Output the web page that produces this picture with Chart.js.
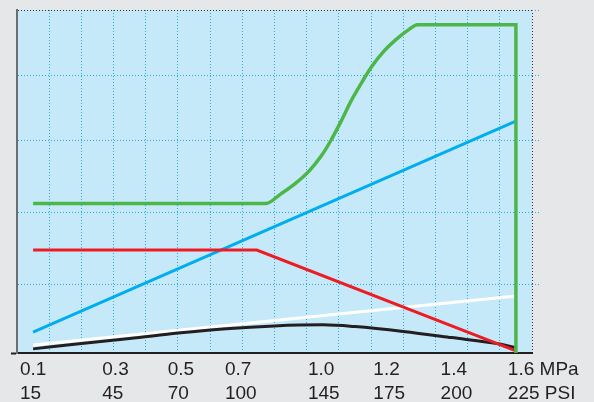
<!DOCTYPE html>
<html>
<head>
<meta charset="utf-8">
<script src="https://cdn.jsdelivr.net/npm/chart.js@4.4.1/dist/chart.umd.min.js"></script>
<style>
  html, body { margin: 0; padding: 0; background: #e6e7e8; }
  #wrap { width: 594px; height: 402px; position: relative; }
</style>
</head>
<body>
<div id="wrap"><canvas id="pressureChart"></canvas></div>
<script>
// axis labels (two rows: MPa over PSI)
var mpaLabels = ['0.1', '0.3', '0.5', '0.7', '1.0', '1.2', '1.4', '1.6 MPa'];
var psiLabels = ['15', '45', '70', '100', '145', '175', '200', '225 PSI'];
// where each label starts along the MPa axis
var labelAt = [0.059, 0.315, 0.518, 0.696, 0.954, 1.157, 1.366, 1.575];
// horizontal grid lines (relative units, no labels)
var yGrid = [0, 20, 41, 62, 81, 100];

// series: pressure (MPa) / value
var greenP = [0.1, 0.823, 0.87, 0.917, 0.958, 0.995, 1.026, 1.057, 1.088, 1.12, 1.151, 1.188, 1.229, 1.266, 1.294, 1.6, 1.6];
var greenV = [43.6, 43.6, 46.4, 49.6, 53.1, 57.4, 62.1, 67.6, 73.5, 78.7, 83.4, 87.8, 91.5, 94.2, 95.7, 95.7, 0];
var redP = [0.1, 0.795, 1.6];
var redV = [30.0, 30.0, 0.6];
var blackP = [0.1, 0.25, 0.4, 0.55, 0.7, 0.85, 1.0, 1.1, 1.25, 1.4, 1.55, 1.6];
var blackV = [1.2, 2.8, 4.2, 5.8, 7.1, 7.9, 8.2, 7.7, 6.3, 4.5, 2.6, 1.5];
var blueP = [0.1, 1.6];
var blueV = [6.1, 67.6];
var whiteP = [0.1, 1.6];
var whiteV = [2.3, 16.6];

var X_MIN = 0.05, X_MAX = 1.65;
var GRID_BLUE = '#29abe2';
var EDGE_DARK = '#2a3440';

function pts(xs, ys) {
  return xs.map(function(x, i) { return { x: x, y: ys[i] }; });
}

function line(data, color, width, smooth) {
  return {
    data: data,
    borderColor: color,
    borderWidth: width,
    pointRadius: 0,
    fill: false,
    tension: 0,
    cubicInterpolationMode: smooth ? 'monotone' : 'default'
  };
}

var plotBg = {
  id: 'plotBg',
  beforeDraw: function(chart) {
    var a = chart.chartArea, ctx = chart.ctx;
    ctx.save();
    ctx.fillStyle = '#c6e9f9';
    ctx.fillRect(a.left, a.top, a.right - a.left, a.bottom - a.top);
    ctx.restore();
  }
};

var xGridTicks = [];
for (var i = 0; i <= 16; i++) {
  xGridTicks.push({ value: +(X_MIN + i * 0.1).toFixed(2) });
}

var ctx = document.getElementById('pressureChart').getContext('2d');
var pressureChart = new Chart(ctx, {
  type: 'line',
  data: {
    datasets: [
      line(pts(greenP, greenV), '#4cb748', 3.5, true),
      line(pts(redP, redV), '#ed1c24', 3, false),
      line(pts(blackP, blackV), '#231f20', 3, true),
      line(pts(blueP, blueV), '#00aeef', 3, false),
      line(pts(whiteP, whiteV), '#ffffff', 3, false)
    ]
  },
  options: {
    responsive: true,
    maintainAspectRatio: false,
    animation: false,
    layout: { autoPadding: false, padding: { left: 11, top: 10, right: 54, bottom: 0 } },
    plugins: { legend: { display: false }, tooltip: { enabled: false } },
    scales: {
      x: {
        type: 'linear',
        position: 'bottom',
        min: X_MIN,
        max: X_MAX,
        afterBuildTicks: function(scale) { scale.ticks = xGridTicks.slice(); },
        ticks: { display: false },
        grid: {
          drawTicks: false,
          lineWidth: 1,
          color: function(c) {
            if (!c.tick) return GRID_BLUE;
            if (c.tick.value <= X_MIN + 0.001) return 'rgba(0,0,0,0)';
            if (c.tick.value >= X_MAX - 0.001) return EDGE_DARK;
            return GRID_BLUE;
          }
        },
        border: { display: true, color: '#231f20', width: 2, dash: [1, 2] }
      },
      xl: {
        type: 'linear',
        position: 'bottom',
        min: X_MIN,
        max: X_MAX,
        afterBuildTicks: function(scale) {
          scale.ticks = labelAt.map(function(v) { return { value: v }; });
        },
        afterFit: function(scale) {
          scale.paddingLeft = 0;
          scale.paddingRight = 0;
          scale.height = 49;
        },
        grid: { display: false },
        border: { display: false },
        ticks: {
          autoSkip: false,
          maxRotation: 0,
          minRotation: 0,
          align: 'start',
          padding: -3,
          color: '#231f20',
          font: { family: '"Liberation Sans", Arial, sans-serif', size: 19, lineHeight: 1.26 },
          callback: function(v, i) { return [mpaLabels[i], psiLabels[i]]; }
        }
      },
      y: {
        type: 'linear',
        position: 'left',
        min: 0,
        max: 100,
        afterBuildTicks: function(scale) {
          scale.ticks = yGrid.map(function(v) { return { value: v }; });
        },
        ticks: { display: false },
        grid: {
          lineWidth: 1,
          tickLength: 6,
          color: function(c) {
            if (!c.tick) return GRID_BLUE;
            if (c.tick.value === 0) return 'rgba(0,0,0,0)';
            if (c.tick.value === 100) return EDGE_DARK;
            return GRID_BLUE;
          },
          tickColor: function(c) {
            return c.tick && c.tick.value === 0 ? '#231f20' : 'rgba(0,0,0,0)';
          },
          tickWidth: 2
        },
        border: { display: true, color: '#6d6e71', width: 2, dash: [1, 2] }
      },
      y2: {
        type: 'linear',
        position: 'right',
        display: true,
        min: 0,
        max: 100,
        afterBuildTicks: function(scale) {
          scale.ticks = yGrid.map(function(v) { return { value: v }; });
        },
        ticks: { display: false },
        grid: {
          drawOnChartArea: false,
          tickLength: 8,
          tickBorderDash: [1, 2],
          tickColor: function(c) {
            return c.tick && c.tick.value === 0 ? 'rgba(0,0,0,0)' : GRID_BLUE;
          }
        },
        border: { display: false }
      }
    }
  },
  plugins: [plotBg]
});
</script>
</body>
</html>
